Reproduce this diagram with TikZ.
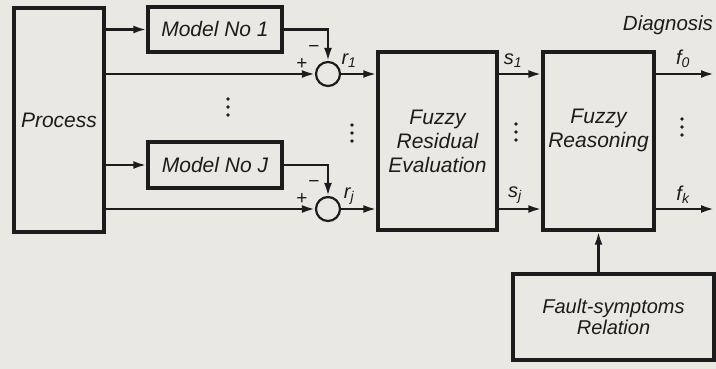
\documentclass[tikz,border=0pt]{standalone}
\usepackage{fontspec}
\setmainfont{Liberation Sans}
\usetikzlibrary{positioning,arrows.meta}

\definecolor{paper}{RGB}{234,232,226}
\definecolor{ink}{RGB}{28,28,28}

\begin{document}
\begin{tikzpicture}[x=1pt,y=-1pt,
    block/.style={draw=ink, line width=3.4pt, text=ink, inner sep=0pt,
        font=\fontsize{21}{24}\selectfont\itshape, align=center},
    blocktext/.style={text=ink, inner sep=0pt,
        font=\fontsize{21}{24}\selectfont\itshape, align=center},
    sumnode/.style={draw=ink, circle, line width=2.2pt, minimum size=24pt, inner sep=0pt},
    sig/.style={draw=ink, line width=2.3pt, -{Latex[length=13pt,width=8pt]}},
    tag/.style={text=ink, inner sep=0pt, font=\fontsize{20}{22}\selectfont\itshape},
    sgn/.style={text=ink, inner sep=0pt, font=\fontsize{19}{21}\selectfont},
]
    % Paper background
    \fill[paper] (0,0) rectangle (716,369);
    \useasboundingbox (0,0) rectangle (716,369);

    % ===== Blocks =====
    \node[block, minimum width=90pt, minimum height=224pt] (process) at (59,120) {Process};
    \node[block, minimum width=134pt, minimum height=45pt] (model1) at (215,29.5) {Model No 1};
    \node[block, minimum width=134pt, minimum height=46pt] (modelJ) at (215,165) {Model No J};
    \node[sumnode] (sum1) at (328,74) {};
    \node[sumnode] (sumJ) at (328,209) {};
    \node[block, minimum width=119pt, minimum height=178pt] (resid) at (437.5,141) {Fuzzy\\Residual\\Evaluation};
    \node[block, minimum width=111pt, minimum height=178pt] (reason) at (598.5,141) {};
    \node[blocktext] (reasontxt) at (598.5,130) {Fuzzy\\Reasoning};
    \node[block, minimum width=201pt, minimum height=86pt,
        font=\fontsize{20}{21}\selectfont\itshape] (fault) at (613.5,317) {Fault-symptoms\\Relation};

    % ===== Signals =====
    \draw[sig] (process.east |- model1.west) -- (model1.west);
    \draw[sig] (process.east |- modelJ.west) -- (modelJ.west);
    \draw[sig] (process.east |- sum1.west) -- (sum1.west);
    \draw[sig] (process.east |- sumJ.west) -- (sumJ.west);
    \draw[sig] (model1.east) -| (sum1.north);
    \draw[sig] (modelJ.east) -| (sumJ.north);
    \draw[sig] (sum1.east) -- (sum1.east -| resid.west);
    \draw[sig] (sumJ.east) -- (sumJ.east -| resid.west);
    \draw[sig] (resid.east |- sum1) -- (reason.west |- sum1);
    \draw[sig] (resid.east |- sumJ) -- (reason.west |- sumJ);
    \coordinate (f0end) at (714,74);
    \coordinate (fkend) at (714,209);
    \draw[sig] (reason.east |- f0end) -- (f0end);
    \draw[sig] (reason.east |- fkend) -- (fkend);
    \draw[sig] (fault.north -| reason.south) -- (reason.south);

    % ===== Labels =====
    \node[sgn] (plus1) at (302,64) {+};
    \node[sgn] (minus1) at (314,49) {−};
    \node[sgn] (plusJ) at (302,199) {+};
    \node[sgn] (minusJ) at (314,184) {−};
    \node[tag] (r1) at (349,61) {r\textsubscript{1}};
    \node[tag] (rJ) at (349,196) {r\textsubscript{j}};
    \node[tag] (s1) at (513,61) {s\textsubscript{1}};
    \node[tag] (sJ) at (515,195) {s\textsubscript{j}};
    \node[tag] (f0) at (683,59) {f\textsubscript{0}};
    \node[tag] (fk) at (683,195) {f\textsubscript{k}};
    \node[blocktext, font=\fontsize{20.5}{22}\selectfont\itshape] (diag) at (668,25) {Diagnosis};

    % Vertical dots
    \foreach \cx/\cy in {228/107, 352/133, 516/132, 682/127} {
        \foreach \d in {-8,0,8} {
            \fill[ink] (\cx,\cy+\d) circle (1.9pt);
        }
    }
\end{tikzpicture}
\end{document}
